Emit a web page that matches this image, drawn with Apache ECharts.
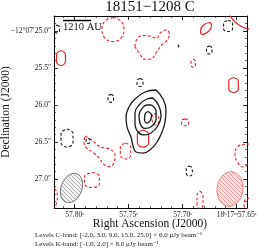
<!DOCTYPE html>
<html><head><meta charset="utf-8">
<script src="https://cdn.jsdelivr.net/npm/echarts@6/dist/echarts.min.js"></script>
<style>html,body{margin:0;padding:0;background:#fff}#c{width:264px;height:252px}</style>
</head><body><div id="c"></div>
<script>
const FONT = '"Liberation Serif","DejaVu Serif",serif';

// ---- axes (RA: seconds of time past 18h17m; Dec: arcsec past -12°07') ----
const raRange = [57.6403, 57.8190];
const decRange = [24.797, 27.392];
const xMajorTicks = [57.65, 57.70, 57.75, 57.80];
const xTickLabels = ['18ʰ17ᵐ57.65ˢ', '57.70ˢ', '57.75ˢ', '57.80ˢ'];
const xMinorTicks = [57.65,57.66,57.67,57.68,57.69,57.70,57.71,57.72,57.73,57.74,57.75,57.76,57.77,57.78,57.79,57.80,57.81];
const yMajorTicks = [25.0, 25.5, 26.0, 26.5, 27.0];
const yTickLabels = ['−12°07′25.0″', '25.5″', '26.0″', '26.5″', '27.0″'];
const yMinorTicks = [24.8,24.9,25.0,25.1,25.2,25.3,25.4,25.5,25.6,25.7,25.8,25.9,26.0,26.1,26.2,26.3,26.4,26.5,26.6,26.7,26.8,26.9,27.0,27.1,27.2,27.3];

// ---- C-band positive contours (3, 9, 15, 25 sigma) ----
const cLevel3 = [[57.7245,25.797],[57.7181,25.919],[57.7153,26.068],[57.7162,26.230],[57.7190,26.365],[57.7236,26.500],[57.7292,26.595],[57.7366,26.649],[57.7431,26.635],[57.7458,26.554],[57.7477,26.433],[57.7514,26.297],[57.7523,26.162],[57.7496,26.027],[57.7440,25.919],[57.7347,25.824],[57.7245,25.797]];
const cLevel9 = [[57.7273,25.905],[57.7218,26.014],[57.7199,26.149],[57.7236,26.297],[57.7292,26.378],[57.7347,26.405],[57.7412,26.365],[57.7440,26.243],[57.7440,26.108],[57.7394,25.986],[57.7329,25.919],[57.7273,25.905]];
const cLevel15 = [[57.7287,26.000],[57.7245,26.088],[57.7245,26.189],[57.7287,26.290],[57.7347,26.317],[57.7394,26.243],[57.7403,26.135],[57.7370,26.041],[57.7329,26.000],[57.7287,26.000]];
const cLevel25 = [[57.7320,26.088],[57.7287,26.135],[57.7296,26.203],[57.7329,26.243],[57.7352,26.196],[57.7347,26.122],[57.7320,26.088]];

// ---- C-band negative contours (-2 sigma) ----
const cNegA = [[57.7394,25.642],[57.7366,25.669],[57.7366,25.723],[57.7394,25.750],[57.7421,25.723],[57.7421,25.669],[57.7394,25.642]];
const cNegB = [[57.7665,25.856],[57.7639,25.883],[57.7639,25.937],[57.7665,25.964],[57.7690,25.937],[57.7690,25.883],[57.7665,25.856]];
const cNegC = [[57.8070,26.324],[57.8014,26.385],[57.8014,26.507],[57.8070,26.568],[57.8125,26.507],[57.8125,26.385],[57.8070,26.324]];
const cNegD = [[57.6752,25.203],[57.6727,25.230],[57.6727,25.284],[57.6752,25.311],[57.6778,25.284],[57.6778,25.230],[57.6752,25.203]];
const cNegE = [[57.6937,26.824],[57.6909,26.858],[57.6909,26.926],[57.6937,26.960],[57.6965,26.926],[57.6965,26.858],[57.6937,26.824]];
const cNegF = [[57.6579,24.858],[57.6537,24.892],[57.6537,24.973],[57.6579,25.007],[57.6620,24.973],[57.6620,24.892],[57.6579,24.858]];
const cNegG = [[57.7042,25.189],[57.7033,25.203],[57.7042,25.216],[57.7051,25.203],[57.7042,25.189]];
const cNegH = [[57.8162,24.919],[57.8139,24.946],[57.8139,25.000],[57.8162,25.027],[57.8185,25.000],[57.8185,24.946],[57.8162,24.919]];
const cNegI = [[57.7875,26.453],[57.7857,26.473],[57.7857,26.500],[57.7875,26.520],[57.7894,26.500],[57.7894,26.473],[57.7875,26.453]];

// ---- K-band positive contours (2 sigma) ----
const kPosA = [[57.8125,25.264],[57.8084,25.318],[57.8084,25.412],[57.8125,25.466],[57.8167,25.412],[57.8167,25.318],[57.8125,25.264]];
const kPosB = [[57.6745,24.885],[57.6732,24.926],[57.6755,25.000],[57.6820,25.047],[57.6833,25.007],[57.6806,24.919],[57.6745,24.885]];
const kPosC = [[57.6528,25.628],[57.6483,25.680],[57.6483,25.781],[57.6528,25.831],[57.6572,25.781],[57.6572,25.680],[57.6528,25.628]];
const kPosD = [[57.7366,26.338],[57.7314,26.396],[57.7314,26.511],[57.7366,26.568],[57.7418,26.511],[57.7418,26.396],[57.7366,26.338]];
const kPosE = [[57.6597,24.649],[57.6570,24.757],[57.6532,24.851],[57.6477,24.919],[57.6421,24.960],[57.6357,24.980]];

// ---- K-band negative contours (-1 sigma) ----
const kNegA = [[57.7644,24.818],[57.7570,24.865],[57.7542,24.980],[57.7570,25.095],[57.7644,25.142],[57.7718,25.095],[57.7746,24.980],[57.7718,24.865],[57.7644,24.818]];
const kNegB = [[57.7440,25.212],[57.7421,25.108],[57.7366,25.061],[57.7301,25.068],[57.7239,25.099],[57.7208,25.031],[57.7153,24.987],[57.7122,25.031],[57.7141,25.122],[57.7193,25.189],[57.7239,25.280],[57.7301,25.382],[57.7347,25.382],[57.7400,25.301],[57.7440,25.212]];
const kNegC = [[57.6900,25.382],[57.6880,25.410],[57.6880,25.464],[57.6900,25.491],[57.6921,25.464],[57.6921,25.410],[57.6900,25.382]];
const kNegD = [[57.7264,26.115],[57.7232,26.142],[57.7218,26.203],[57.7232,26.264],[57.7255,26.270],[57.7278,26.230],[57.7283,26.162],[57.7264,26.115]];
const kNegE = [[57.6977,26.187],[57.6945,26.210],[57.6945,26.257],[57.6977,26.281],[57.7009,26.257],[57.7009,26.210],[57.6977,26.187]];
const kNegF = [[57.7903,26.419],[57.7841,26.473],[57.7764,26.564],[57.7671,26.599],[57.7625,26.676],[57.7634,26.780],[57.7687,26.834],[57.7733,26.797],[57.7770,26.720],[57.7826,26.645],[57.7887,26.585],[57.7912,26.510],[57.7903,26.419]];
const kNegG = [[57.7528,26.514],[57.7480,26.568],[57.7480,26.676],[57.7528,26.730],[57.7576,26.676],[57.7576,26.568],[57.7528,26.514]];
const kNegH = [[57.7838,26.912],[57.7770,26.964],[57.7770,27.065],[57.7838,27.115],[57.7907,27.065],[57.7907,26.964],[57.7838,26.912]];
const kNegI = [[57.6375,26.527],[57.6431,26.534],[57.6495,26.568],[57.6514,26.676],[57.6486,26.784],[57.6440,26.838],[57.6394,26.797],[57.6357,26.716]];
const kNegJ = [[57.6838,27.162],[57.6810,27.223],[57.6810,27.345],[57.6838,27.406],[57.6866,27.345],[57.6866,27.223],[57.6838,27.162]];
const kNegK = [[57.6375,27.257],[57.6421,27.284],[57.6431,27.352],[57.6403,27.406],[57.6347,27.392]];
const kNegL = [[57.8227,27.095],[57.8181,27.135],[57.8158,27.230],[57.8167,27.324],[57.8190,27.419]];

// ---- beams: [ra, dec, bmaj(arcsec), bmin(arcsec), PA(deg)] ----
const beamC = [57.8028, 27.122, 0.41, 0.28, -21];
const beamK = [57.6560, 27.135, 0.47, 0.35, -8];

// ---- scale bar (1210 AU) ----
const scaleBar = [[57.8107, 24.858], [57.7847, 24.858]];
const scaleText = '1210 AU';

const titleText = '18151−1208 C';
const levelsC = 'Levels C-band: [-2.0, 3.0, 9.0, 15.0, 25.0] × 6.0 μJy beam⁻¹';
const levelsK = 'Levels K-band: [-1.0, 2.0] × 8.0 μJy beam⁻¹';

const BLACK = '#1a1a1a', RED = '#e8262b';

function hatch(bg, fg) {
  const cv = document.createElement('canvas');
  cv.width = cv.height = 4;
  const g = cv.getContext('2d');
  g.fillStyle = bg; g.fillRect(0, 0, 4, 4);
  g.strokeStyle = fg; g.lineWidth = 0.8;
  g.beginPath();
  g.moveTo(-1, -1); g.lineTo(5, 5);
  g.moveTo(3, -1); g.lineTo(5, 1);
  g.moveTo(-1, 3); g.lineTo(1, 5);
  g.stroke();
  return { image: cv, repeat: 'repeat' };
}

function beamSeries(beam, fill, stroke) {
  return {
    type: 'custom', xAxisIndex: 0, yAxisIndex: 0, silent: true, z: 1, clip: false,
    data: [beam],
    renderItem: function (params, api) {
      const c = api.coord([api.value(0), api.value(1)]);
      const pxPerArcsec = Math.abs(api.size([0, 1])[1]);
      const a = api.value(2) / 2 * pxPerArcsec, b = api.value(3) / 2 * pxPerArcsec;
      const th = api.value(4) * Math.PI / 180;
      const maj = [-Math.sin(th), -Math.cos(th)], mn = [Math.cos(th), -Math.sin(th)];
      const pts = [];
      for (let i = 0; i < 90; i++) {
        const t = i / 90 * 2 * Math.PI;
        pts.push([c[0] + a * Math.sin(t) * maj[0] + b * Math.cos(t) * mn[0],
                  c[1] + a * Math.sin(t) * maj[1] + b * Math.cos(t) * mn[1]]);
      }
      return { type: 'polygon', shape: { points: pts }, style: { fill: fill, stroke: stroke, lineWidth: 0.9 } };
    }
  };
}

function contour(data, color, dashed, w, closed) {
  return {
    type: 'line', data: data, xAxisIndex: 0, yAxisIndex: 0, symbol: 'none', showSymbol: false,
    smooth: 0.45, clip: true, silent: true, z: 3, animation: false,
    lineStyle: { color: color, width: w, type: dashed ? [3, 2] : 'solid' }
  };
}

const chart = echarts.init(document.getElementById('c'), null, { renderer: 'canvas' });

function findLabel(ticks, labels, v) {
  const i = ticks.findIndex(t => Math.abs(t - v) < 1e-6);
  return i >= 0 ? labels[i] : '';
}

const xBase = { type: 'value', min: raRange[0], max: raRange[1], inverse: true, splitLine: { show: false },
  axisLabel: { show: false }, axisLine: { show: false }, axisTick: { show: false } };
const yBase = { type: 'value', min: decRange[0], max: decRange[1], inverse: true, splitLine: { show: false },
  axisLabel: { show: false }, axisLine: { show: false }, axisTick: { show: false } };
const lineBlack = { show: true, onZero: false, lineStyle: { color: '#000', width: 1 } };
const tickMaj = (vals) => ({ show: true, inside: true, length: 4, customValues: vals, lineStyle: { color: '#000', width: 0.8 } });
const tickMin = (vals) => ({ show: true, inside: true, length: 2, customValues: vals, lineStyle: { color: '#000', width: 0.6 } });

const series = [
  beamSeries(beamC, hatch('#f2f2f2', '#9a9a9a'), '#555'),
  beamSeries(beamK, hatch('#fde3e3', '#f08a8a'), '#f06a6a'),
];
[kNegA, kNegB, kNegC, kNegD, kNegE, kNegF, kNegG, kNegH, kNegI, kNegJ, kNegK, kNegL].forEach(d => series.push(contour(d, RED, true, 1.1)));
[kPosA, kPosB, kPosC, kPosD, kPosE].forEach(d => series.push(contour(d, RED, false, 1.2)));
[cNegA, cNegB, cNegC, cNegD, cNegE, cNegF, cNegG, cNegH, cNegI].forEach(d => series.push(contour(d, BLACK, true, 1.1)));
[cLevel3, cLevel9, cLevel15, cLevel25].forEach(d => series.push(contour(d, BLACK, false, 1.3)));
series.push({
  type: 'line', data: scaleBar, xAxisIndex: 0, yAxisIndex: 0, symbol: 'none', silent: true, z: 5,
  lineStyle: { color: '#000', width: 1.5 }, clip: false
});

chart.setOption({
  animation: false,
  backgroundColor: '#fff',
  grid: { left: 54, top: 16, width: 193, height: 192, containLabel: false },
  xAxis: [
    Object.assign({}, xBase, { position: 'bottom', axisLine: lineBlack, axisTick: tickMaj(xMajorTicks),
      axisLabel: { show: true, customValues: xMajorTicks, formatter: v => findLabel(xMajorTicks, xTickLabels, v),
        fontSize: 7.5, fontFamily: FONT, color: '#222', margin: 3 } }),
    Object.assign({}, xBase, { position: 'bottom', axisTick: tickMin(xMinorTicks) }),
    Object.assign({}, xBase, { position: 'top', axisLine: lineBlack, axisTick: tickMaj(xMajorTicks) }),
    Object.assign({}, xBase, { position: 'top', axisTick: tickMin(xMinorTicks) })
  ],
  yAxis: [
    Object.assign({}, yBase, { position: 'left', axisLine: lineBlack, axisTick: tickMaj(yMajorTicks),
      axisLabel: { show: true, customValues: yMajorTicks, formatter: v => findLabel(yMajorTicks, yTickLabels, v),
        fontSize: 7.5, fontFamily: FONT, color: '#222', margin: 3 } }),
    Object.assign({}, yBase, { position: 'left', axisTick: tickMin(yMinorTicks) }),
    Object.assign({}, yBase, { position: 'right', axisLine: lineBlack, axisTick: tickMaj(yMajorTicks) }),
    Object.assign({}, yBase, { position: 'right', axisTick: tickMin(yMinorTicks) })
  ],
  graphic: [
    { type: 'text', x: 150, y: 7, z: 10, style: { text: titleText, fontFamily: FONT, fontSize: 15, fill: '#111', align: 'center', verticalAlign: 'middle' } },
    { type: 'text', x: 150, y: 224, z: 10, style: { text: 'Right Ascension (J2000)', fontFamily: FONT, fontSize: 11.5, fill: '#111', align: 'center', verticalAlign: 'middle' } },
    { type: 'text', x: 6, y: 112, rotation: Math.PI / 2, z: 10, style: { text: 'Declination (J2000)', fontFamily: FONT, fontSize: 11.5, fill: '#111', align: 'center', verticalAlign: 'middle' } },
    { type: 'text', x: 35, y: 235, z: 10, style: { text: levelsC, fontFamily: FONT, fontSize: 7, fill: '#222', align: 'left', verticalAlign: 'middle' } },
    { type: 'text', x: 35, y: 244, z: 10, style: { text: levelsK, fontFamily: FONT, fontSize: 7, fill: '#222', align: 'left', verticalAlign: 'middle' } },
    { type: 'text', x: 63, y: 27.5, z: 10, style: { text: scaleText, fontFamily: FONT, fontSize: 10.5, fill: '#111', align: 'left', verticalAlign: 'middle' } }
  ],
  series: series
});
</script></body></html>
